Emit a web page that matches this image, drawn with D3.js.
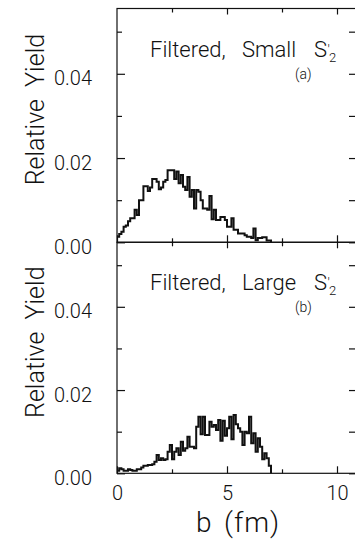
<!DOCTYPE html>
<html>
<head>
<meta charset="utf-8">
<script src="https://cdn.jsdelivr.net/npm/d3@7"></script>
<style>
body { margin: 0; background: #fff; }
svg { display: block; }
text { font-family: Roboto, "Liberation Sans", Arial, sans-serif; font-weight: 300; fill: #111; }
</style>
</head>
<body>
<svg id="chart" width="355" height="539"></svg>
<script>
// bins of 0.1 fm, starting at b = 0
const binWidth = 0.1
const yieldSmall = [
	0.0013, 0.0020, 0.0025, 0.0037, 0.0040, 0.0050, 0.0057, 0.0057, 0.0077, 0.0065,
	0.0100, 0.0100, 0.0133, 0.0133, 0.0122, 0.0130, 0.0150, 0.0150, 0.0144, 0.0126,
	0.0130, 0.0144, 0.0148, 0.0171, 0.0171, 0.0171, 0.0150, 0.0168, 0.0140, 0.0160,
	0.0132, 0.0124, 0.0155, 0.0108, 0.0124, 0.0080, 0.0124, 0.0120, 0.0100, 0.0080,
	0.0080, 0.0077, 0.0110, 0.0055, 0.0077, 0.0053, 0.0053, 0.0060, 0.0060, 0.0053,
	0.0037, 0.0037, 0.0057, 0.0030, 0.0030, 0.0021, 0.0021, 0.0021, 0.0017, 0.0013,
	0.0013, 0.0010, 0.0033, 0.0005, 0.0010, 0.0010, 0.0012, 0.0012, 0.0004, 0.0004
]
const yieldLarge = [
	0.0006, 0.0012, 0.0010, 0.0006, 0.0006, 0.0010, 0.0008, 0.0006, 0.0006, 0.0010,
	0.0010, 0.0014, 0.0018, 0.0018, 0.0020, 0.0020, 0.0022, 0.0028, 0.0044, 0.0032,
	0.0036, 0.0032, 0.0034, 0.0052, 0.0068, 0.0034, 0.0052, 0.0060, 0.0044, 0.0076,
	0.0054, 0.0060, 0.0088, 0.0064, 0.0064, 0.0060, 0.0112, 0.0136, 0.0094, 0.0136,
	0.0092, 0.0092, 0.0124, 0.0112, 0.0116, 0.0104, 0.0128, 0.0078, 0.0126, 0.0090,
	0.0108, 0.0136, 0.0082, 0.0140, 0.0118, 0.0108, 0.0100, 0.0068, 0.0100, 0.0096,
	0.0136, 0.0072, 0.0096, 0.0052, 0.0084, 0.0064, 0.0034, 0.0048, 0.0036, 0.0018
]
const panelSeries = [yieldSmall, yieldLarge]
const panelWords = ['Small', 'Large']
const panelTags = ['(a)', '(b)']
const xMajor = [0, 5, 10]
const xMinor = [2.5, 7.5]
const yMajor = [0, 0.02, 0.04]
const yMinor = [0.01, 0.03, 0.05]

const svg = d3.select('#chart')
const textColor = '#111'
const frameLeft = 117
const frameRight = 356
const yTop = 0.0555
const panelBottoms = [242.3, 473.3]
const panelTops = [8.5, 242.3]

const x = d3.scaleLinear()
	.domain([0, 10])
	.range([frameLeft, 337])

const line = d3.line()
	.x(d => x(d[0]))
	.curve(d3.curveStepAfter)

const tidy = g => {
	g.select('.domain').remove()
	g.selectAll('.tick line').attr('stroke', textColor).attr('stroke-width', 1.2)
}

panelSeries.forEach((series, p) => {
	const y = d3.scaleLinear()
		.domain([0, yTop])
		.range([panelBottoms[p], panelTops[p]])
	const isLast = p === panelSeries.length - 1

	// frame
	svg.append('rect')
		.attr('x', frameLeft)
		.attr('y', y(yTop))
		.attr('width', frameRight - frameLeft)
		.attr('height', y(0) - y(yTop))
		.attr('fill', 'none')
		.attr('stroke', textColor)
		.attr('stroke-width', 1.2)

	// left ticks + labels
	svg.append('g')
		.attr('transform', `translate(${frameLeft},0)`)
		.call(d3.axisLeft(y).tickValues(yMajor).tickSize(-8).tickPadding(25).tickFormat(d3.format('.2f')))
		.call(tidy)
		.selectAll('text')
		.attr('dy', '0.55em')
		.style('font-size', '20px')
		.style('fill', textColor)

	svg.append('g')
		.attr('transform', `translate(${frameLeft},0)`)
		.call(d3.axisLeft(y).tickValues(yMinor).tickSize(-5).tickFormat(''))
		.call(tidy)

	// right ticks
	svg.append('g')
		.attr('transform', `translate(${frameRight},0)`)
		.call(d3.axisRight(y).tickValues(yMajor.concat(yMinor)).tickSize(-7).tickFormat(''))
		.call(tidy)

	// top ticks
	svg.append('g')
		.attr('transform', `translate(0,${y(yTop)})`)
		.call(d3.axisTop(x).tickValues(xMajor.slice(1)).tickSize(-6).tickFormat(''))
		.call(tidy)
	svg.append('g')
		.attr('transform', `translate(0,${y(yTop)})`)
		.call(d3.axisTop(x).tickValues(xMinor).tickSize(-4).tickFormat(''))
		.call(tidy)

	// bottom ticks
	const bottom = svg.append('g')
		.attr('transform', `translate(0,${y(0)})`)
		.call(d3.axisBottom(x).tickValues(xMajor).tickSize(-7).tickPadding(13)
			.tickFormat(isLast ? d3.format('d') : ''))
		.call(tidy)
	bottom.selectAll('text')
		.style('font-size', '20px')
		.style('fill', textColor)
	svg.append('g')
		.attr('transform', `translate(0,${y(0)})`)
		.call(d3.axisBottom(x).tickValues(xMinor).tickSize(-4).tickFormat(''))
		.call(tidy)

	// histogram
	const pts = series.map((v, i) => [i * binWidth, v])
	pts.push([series.length * binWidth, 0])
	svg.append('path')
		.attr('d', line.y(d => y(d[1]))(pts))
		.attr('fill', 'none')
		.attr('stroke', textColor)
		.attr('stroke-width', 2)

	// annotation
	const base = y(0.04) - 16.5
	const note = svg.append('text')
		.attr('y', base)
		.style('font-size', '22px')
	note.append('tspan').attr('x', 150).text('Filtered,')
	note.append('tspan').attr('x', 242).text(panelWords[p])
	note.append('tspan').attr('x', 314).text('S')
	note.append('tspan').attr('dx', 0.5).attr('dy', -2).style('font-size', '14px').text('′')
	note.append('tspan').attr('x', 329).attr('dy', 7).style('font-size', '13px').text('2')

	svg.append('text')
		.attr('x', 295)
		.attr('y', y(0.04) + 5)
		.style('font-size', '14px')
		.text(panelTags[p])

	// y title
	svg.append('text')
		.attr('transform', `translate(44,${y(0.0315)}) rotate(-90)`)
		.attr('text-anchor', 'middle')
		.style('font-size', '25px')
		.style('white-space', 'pre')
		.text('Relative  Yield')
})

// x title
const xt = svg.append('text')
	.attr('y', 532)
	.style('font-size', '28px')
xt.append('tspan').attr('x', 196).text('b')
xt.append('tspan').attr('x', 224).style('letter-spacing', '1px').text('(fm)')
</script>
</body>
</html>
